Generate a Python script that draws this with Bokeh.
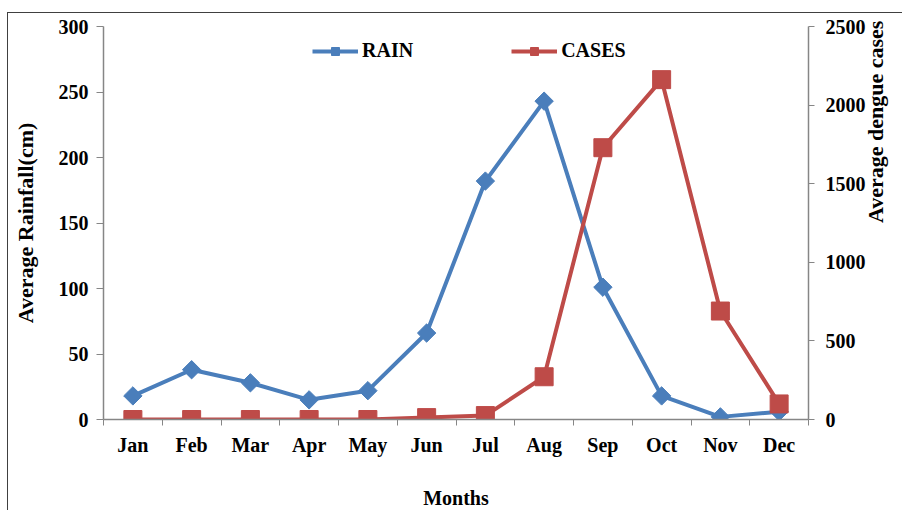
import math
from bokeh.plotting import figure
from bokeh.models import (Range1d, LinearAxis, FixedTicker, Legend, LegendItem)
from bokeh.embed import file_html
from bokeh.resources import INLINE

months = ["Jan", "Feb", "Mar", "Apr", "May", "Jun", "Jul", "Aug", "Sep", "Oct", "Nov", "Dec"]
rain = [18, 38, 28, 15, 22, 66, 182, 243, 101, 18, 2, 6]
cases = [0, 0, 0, 0, 0, 12, 25, 272, 1729, 2162, 690, 99]
rain_ticks = [0, 50, 100, 150, 200, 250, 300]
case_ticks = [0, 500, 1000, 1500, 2000, 2500]

xpos = [i + 0.5 for i in range(len(months))]
FONT = "Liberation Serif"
BLUE = "#4a7ebb"
RED = "#be4b48"
AX = "#868686"
TICK_FS = "20px"
VLAB_FS = "22px"

p = figure(width=895, height=498, output_backend="svg", toolbar_location=None,
           x_range=Range1d(0, len(months)), y_range=Range1d(0, 300),
           min_border_left=95, min_border_right=94, min_border_top=13, min_border_bottom=90)
p.margin = (12, 0, 0, 7)
p.styles = {"border-top": "1px solid #404040", "border-left": "1px solid #404040"}
p.outline_line_color = None
p.xgrid.visible = False
p.ygrid.visible = False
p.background_fill_color = "white"
p.border_fill_color = "white"

p.extra_y_ranges = {"cases": Range1d(0, 2500)}

# x axis
xa = p.xaxis[0]
xa.ticker = FixedTicker(ticks=xpos, minor_ticks=list(range(len(months) + 1)))
xa.major_label_overrides = {x: m for x, m in zip(xpos, months)}
xa.major_tick_out = 0
xa.major_tick_in = 0
xa.minor_tick_out = 6
xa.minor_tick_in = 0
xa.minor_tick_line_color = AX
xa.axis_line_color = AX
xa.axis_line_width = 1.5
xa.major_label_text_font = FONT
xa.major_label_text_font_style = "bold"
xa.major_label_text_font_size = TICK_FS
xa.major_label_text_color = "black"
xa.major_label_standoff = 8
xa.axis_label = "Months"
xa.axis_label_text_font = FONT
xa.axis_label_text_font_style = "bold"
xa.axis_label_text_font_size = TICK_FS
xa.axis_label_text_color = "black"
xa.axis_label_standoff = 28

# left axis
ya = p.yaxis[0]
ya.ticker = FixedTicker(ticks=rain_ticks)
ya.minor_tick_line_color = None
ya.major_tick_out = 7
ya.major_tick_in = 0
ya.major_tick_line_color = AX
ya.axis_line_color = AX
ya.axis_line_width = 1.5
ya.major_label_text_font = FONT
ya.major_label_text_font_style = "bold"
ya.major_label_text_font_size = TICK_FS
ya.major_label_text_color = "black"
ya.major_label_standoff = 8
ya.axis_label = "Average Rainfall(cm)"
ya.axis_label_text_font = FONT
ya.axis_label_text_font_style = "bold"
ya.axis_label_text_font_size = VLAB_FS
ya.axis_label_text_color = "black"
ya.axis_label_standoff = 18

# right axis
ra = LinearAxis(y_range_name="cases", ticker=FixedTicker(ticks=case_ticks))
ra.minor_tick_line_color = None
ra.major_tick_out = 6
ra.major_tick_in = 0
ra.major_tick_line_color = AX
ra.axis_line_color = AX
ra.axis_line_width = 1.5
ra.major_label_text_font = FONT
ra.major_label_text_font_style = "bold"
ra.major_label_text_font_size = TICK_FS
ra.major_label_text_color = "black"
ra.major_label_standoff = 11
ra.axis_label = "Average dengue cases"
ra.axis_label_text_font = FONT
ra.axis_label_text_font_style = "bold"
ra.axis_label_text_font_size = VLAB_FS
ra.axis_label_text_color = "black"
ra.axis_label_standoff = 7
ra.axis_label_orientation = math.pi / 2
p.add_layout(ra, "right")

rl = p.line(xpos, rain, line_color=BLUE, line_width=4)
rm = p.scatter(xpos, rain, marker="square", angle=math.pi / 4, size=13,
               fill_color=BLUE, line_color=BLUE)
cl = p.line(xpos, cases, y_range_name="cases", line_color=RED, line_width=4)
cm = p.scatter(xpos, cases, y_range_name="cases", marker="square", size=18,
               fill_color=RED, line_color=RED)

legend = Legend(items=[LegendItem(label="RAIN", renderers=[rl, rm]),
                       LegendItem(label="CASES", renderers=[cl, cm])],
                orientation="horizontal", location=(209, 357),
                spacing=98, glyph_width=46, glyph_height=20, label_standoff=4,
                padding=0, margin=0,
                label_text_font=FONT, label_text_font_style="bold",
                label_text_font_size=TICK_FS, label_text_color="black",
                border_line_color=None, background_fill_alpha=0)
p.add_layout(legend, "center")

open("out.html", "w").write(file_html(p, INLINE))
